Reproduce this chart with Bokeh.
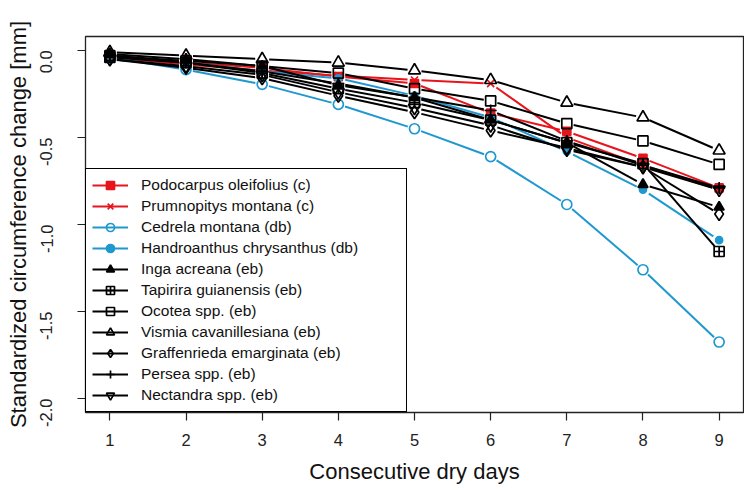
import math
from bokeh.plotting import figure
from bokeh.models import Range1d, Legend, LegendItem, FixedTicker, NumeralTickFormatter
from bokeh.embed import file_html
from bokeh.resources import INLINE

days = [1, 2, 3, 4, 5, 6, 7, 8, 9]

podocarpus = [-0.03, -0.07, -0.10, -0.15, -0.19, -0.36, -0.465, -0.62, -0.79]
prumnopitys = [-0.04, -0.08, -0.115, -0.145, -0.17, -0.19, -0.50, -0.66, -0.80]
cedrela = [-0.04, -0.11, -0.195, -0.31, -0.45, -0.61, -0.885, -1.26, -1.675]
handroanthus = [-0.03, -0.07, -0.12, -0.16, -0.26, -0.385, -0.58, -0.80, -1.09]
inga = [-0.02, -0.05, -0.09, -0.20, -0.27, -0.40, -0.53, -0.77, -0.90]
tapirira = [-0.04, -0.07, -0.13, -0.22, -0.30, -0.40, -0.53, -0.65, -1.155]
ocotea = [-0.03, -0.06, -0.09, -0.13, -0.22, -0.29, -0.42, -0.52, -0.655]
vismia = [-0.01, -0.03, -0.05, -0.07, -0.115, -0.17, -0.30, -0.385, -0.575]
graffenrieda = [-0.05, -0.10, -0.16, -0.26, -0.355, -0.46, -0.56, -0.67, -0.94]
persea = [-0.03, -0.07, -0.12, -0.19, -0.27, -0.345, -0.52, -0.66, -0.79]
nectandra = [-0.05, -0.09, -0.14, -0.24, -0.33, -0.43, -0.57, -0.67, -0.80]

labels = [
    "Podocarpus oleifolius (c)", "Prumnopitys montana (c)", "Cedrela montana (db)",
    "Handroanthus chrysanthus (db)", "Inga acreana (eb)", "Tapirira guianensis (eb)",
    "Ocotea spp. (eb)", "Vismia cavanillesiana (eb)", "Graffenrieda emarginata (eb)",
    "Persea spp. (eb)", "Nectandra spp. (eb)",
]
values = [podocarpus, prumnopitys, cedrela, handroanthus, inga, tapirira,
          ocotea, vismia, graffenrieda, persea, nectandra]
y_ticks = [0.0, -0.5, -1.0, -1.5, -2.0]

RED = "#e8141c"
BLUE = "#1f98cf"
BLK = "#000000"
# (color, marker, filled, size)
styles = [
    (RED, "square", True, 8),
    (RED, "x", False, 10),
    (BLUE, "circle", False, 10),
    (BLUE, "circle", True, 7),
    (BLK, "triangle", True, 10),
    (BLK, "square_cross", False, 10),
    (BLK, "square", False, 10),
    (BLK, "triangle", False, 12),
    (BLK, "diamond", False, 13),
    (BLK, "cross", False, 12),
    (BLK, "inverted_triangle", False, 12),
]

W, H = 744, 486
BL, BR, BT, BB = 85, 1, 36, 74
xr = (0.68, 9.32)
yr = (-2.08, 0.08)

p = figure(width=W, height=H, x_range=Range1d(*xr), y_range=Range1d(*yr),
           output_backend="svg", toolbar_location=None,
           min_border_left=BL, min_border_right=BR, min_border_top=BT, min_border_bottom=BB,
           background_fill_color="white", border_fill_color="white")

sx = (W - BL - BR) / (xr[1] - xr[0])
sy = (H - BT - BB) / (yr[1] - yr[0])
GAP = 7.0

items = []
for lab, ys, (col, mk, filled, sz) in zip(labels, values, styles):
    x0s, y0s, x1s, y1s = [], [], [], []
    for i in range(len(days) - 1):
        dx = (days[i + 1] - days[i]) * sx
        dy = (ys[i + 1] - ys[i]) * sy
        L = math.hypot(dx, dy)
        if L <= 2 * GAP:
            continue
        f = GAP / L
        x0s.append(days[i] + (days[i + 1] - days[i]) * f)
        y0s.append(ys[i] + (ys[i + 1] - ys[i]) * f)
        x1s.append(days[i + 1] - (days[i + 1] - days[i]) * f)
        y1s.append(ys[i + 1] - (ys[i + 1] - ys[i]) * f)
    seg = p.segment(x0=x0s, y0=y0s, x1=x1s, y1=y1s, line_color=col, line_width=2)
    sc = p.scatter(x=days, y=ys, marker=mk, size=sz, line_color=col, line_width=1.7,
                   fill_color=col if filled else "white", fill_alpha=1.0 if filled else 0.0)
    items.append(LegendItem(label=lab, renderers=[seg, sc]))

legend = Legend(items=items, location="bottom_left", margin=0, padding=6, spacing=1,
                label_height=20, glyph_height=20, glyph_width=36, label_standoff=13,
                label_width=259, border_line_color="black", border_line_width=1,
                border_line_alpha=1, background_fill_color="white", background_fill_alpha=1,
                label_text_font="Liberation Sans", label_text_font_size="15.5px",
                label_text_color="#111111")
p.add_layout(legend)

p.xgrid.visible = False
p.ygrid.visible = False
p.outline_line_color = "#222222"
p.outline_line_width = 1.3
p.outline_line_alpha = 1

p.xaxis.ticker = FixedTicker(ticks=days)
p.yaxis.ticker = FixedTicker(ticks=y_ticks)
p.yaxis.formatter = NumeralTickFormatter(format="0.0")
p.yaxis.major_label_orientation = math.pi / 2

for ax in (p.xaxis[0], p.yaxis[0]):
    ax.axis_line_color = None
    ax.major_tick_line_color = "#222222"
    ax.major_tick_line_width = 1.2
    ax.major_tick_out = 8
    ax.major_tick_in = 0
    ax.minor_tick_line_color = None
    ax.major_label_text_font = "Liberation Sans"
    ax.major_label_text_font_size = "16.5px"
    ax.major_label_text_color = "#222222"
    ax.axis_label_text_font = "Liberation Sans"
    ax.axis_label_text_font_size = "22px"
    ax.axis_label_text_font_style = "normal"
    ax.axis_label_text_color = "#111111"

p.xaxis.axis_label = "Consecutive dry days"
p.yaxis.axis_label = "Standardized circumference change [mm]"
p.xaxis.major_label_standoff = 13
p.xaxis.axis_label_standoff = 10
p.yaxis.major_label_standoff = 31
p.yaxis.axis_label_standoff = 1

open("out.html", "w").write(file_html(p, INLINE))
